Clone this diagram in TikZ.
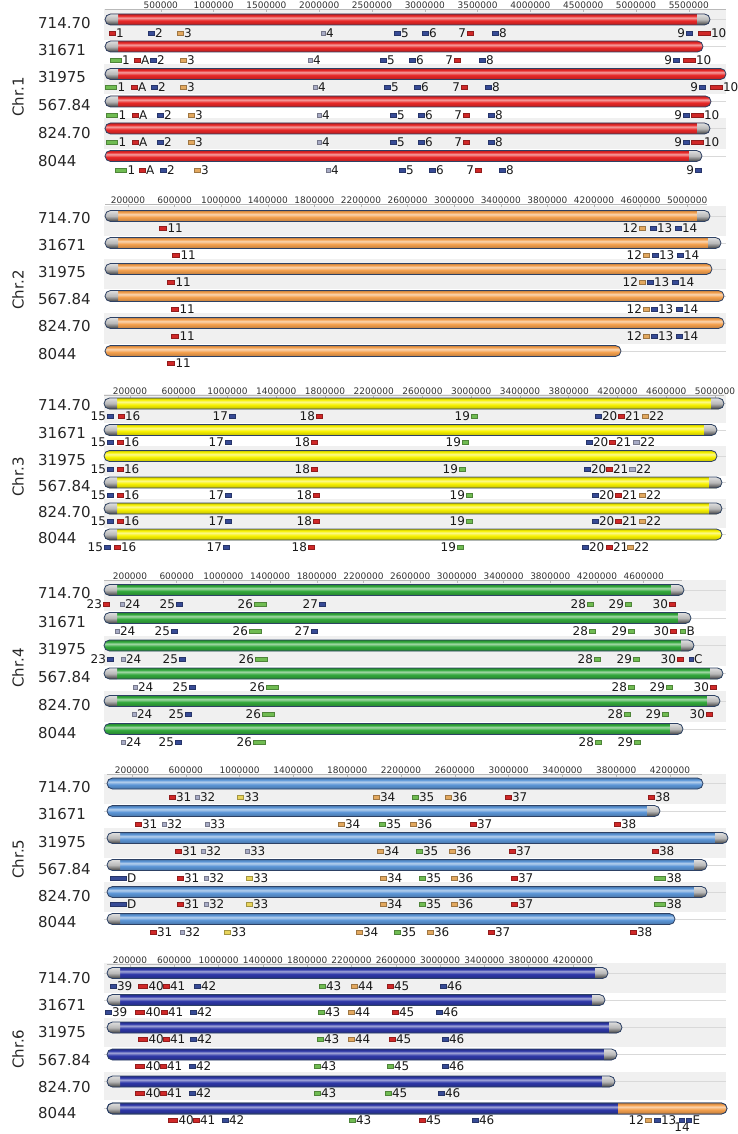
\documentclass[tikz,border=0pt]{standalone}
\usepackage{fontspec}
\setmainfont{DejaVu Sans}
\usepackage{tikz}

\definecolor{chrA}{RGB}{232,40,40}
\definecolor{chrB}{RGB}{244,160,78}
\definecolor{chrC}{RGB}{248,242,0}
\definecolor{chrD}{RGB}{50,168,60}
\definecolor{chrE}{RGB}{92,150,215}
\definecolor{chrF}{RGB}{46,56,168}
\definecolor{outl}{RGB}{45,65,100}
\definecolor{mkr}{RGB}{208,40,40}
\definecolor{mkb}{RGB}{55,75,150}
\definecolor{mko}{RGB}{226,168,95}
\definecolor{mkg}{RGB}{112,188,82}
\definecolor{mkv}{RGB}{168,172,198}
\definecolor{mky}{RGB}{232,212,92}
\colorlet{barc}{chrA}
\pgfdeclareverticalshading[barc]{tube}{100bp}{color(0bp)=(barc!78!black); color(25bp)=(barc!78!black);
  color(45bp)=(barc); color(58bp)=(barc!45!white); color(67bp)=(barc); color(75bp)=(barc!80!black);
  color(100bp)=(barc!80!black)}

\begin{document}
\begin{tikzpicture}[x=1pt, y=-1pt,
  strain/.style={anchor=west, font=\fontsize{15}{15}\selectfont, inner sep=0pt, text=black!85},
  chrlab/.style={rotate=90, font=\fontsize{15}{15}\selectfont, inner sep=0pt, text=black!85},
  axlab/.style={font=\fontsize{9}{9}\selectfont, inner sep=0pt, text=black!80},
  axline/.style={draw=gray!55, line width=0.6pt},
  band/.style={fill=gray!12},
  grid/.style={draw=gray!30, line width=0.4pt},
  bar/.style={/utils/exec={\colorlet{barc}{#1}}, shading=tube},
  endcap/.style={top color=gray!25, bottom color=black!75, middle color=gray!55},
  barline/.style={draw=outl, line width=0.8pt, rounded corners=5.5pt},
  mk/.style={draw=#1!70!black, fill=#1, line width=0.3pt, minimum height=4pt, inner sep=0pt},
  lab/.style={font=\fontsize{12}{12}\selectfont, inner sep=0.7pt, text=black!90}
]
  \useasboundingbox (0,0) rectangle (738,1134);

  % Row bands
  \foreach \ya/\yb in {9.5/40, 64/94.5, 118.5/149.5,
                       206/235.5, 259/289, 313/343.5,
                       393.5/423, 446/476, 498.5/528,
                       580/610.5, 635.5/666, 691/721.5,
                       773.5/804, 828/858, 882/911.5,
                       963/993, 1017.5/1046.5, 1071.5/1100}
    \fill[band] (104,\ya) rectangle (726,\yb);

  % Position axes
  \draw[axline] (105,9.5) -- (726,9.5);
  \foreach \k in {1,...,11} {
    \node[axlab] (ax1-\k) at ({108+52.8*\k},5) {\number\numexpr500000*\k\relax};
    \draw[axline] ({108+52.8*\k},9.5) -- ++(0,2.5);
  }
  \draw[axline] (105,204.5) -- (707,204.5);
  \foreach \k in {0,...,12} {
    \node[axlab] (ax2-\k) at ({128+46.6*\k},200) {\number\numexpr200000+400000*\k\relax};
    \draw[axline] ({128+46.6*\k},204.5) -- ++(0,2.5);
  }
  \draw[axline] (104,395.5) -- (724,395.5);
  \foreach \k in {0,...,12} {
    \node[axlab] (ax3-\k) at ({130+48.75*\k},391) {\number\numexpr200000+400000*\k\relax};
    \draw[axline] ({130+48.75*\k},395.5) -- ++(0,2.5);
  }
  \draw[axline] (104,580.5) -- (682,580.5);
  \foreach \k in {0,...,11} {
    \node[axlab] (ax4-\k) at ({130+46.7*\k},576) {\number\numexpr200000+400000*\k\relax};
    \draw[axline] ({130+46.7*\k},580.5) -- ++(0,2.5);
  }
  \draw[axline] (107,774.5) -- (702,774.5);
  \foreach \k in {0,...,10} {
    \node[axlab] (ax5-\k) at ({132+53.8*\k},770) {\number\numexpr200000+400000*\k\relax};
    \draw[axline] ({132+53.8*\k},774.5) -- ++(0,2.5);
  }
  \draw[axline] (107,964.5) -- (597,964.5);
  \foreach \k in {0,...,10} {
    \node[axlab] (ax6-\k) at ({130+44.3*\k},960) {\number\numexpr200000+400000*\k\relax};
    \draw[axline] ({130+44.3*\k},964.5) -- ++(0,2.5);
  }

  % Chromosome bars (colour / left / y / right / left cap / right cap)
  \foreach \c/\xa/\y/\xb/\cl/\cr in {
      chrA/105/19.5/710/1/1, chrA/105/46.5/703/1/0, chrA/105/74/726/1/0,
      chrA/105/101.5/711/1/0, chrA/105/128.5/710/0/1, chrA/105/156/702/0/1,
      chrB/105/216/710/1/1, chrB/105/243/721/1/1, chrB/105/269/712/1/0,
      chrB/105/296/724/1/0, chrB/105/323/724/1/0, chrB/105/351/621/0/0,
      chrC/104/403.5/724/1/1, chrC/104/430/717/1/1, chrC/104/456/717/0/0,
      chrC/104/482.5/722/1/1, chrC/104/508.5/722/1/1, chrC/104/534.5/722/1/0,
      chrD/104/590/684/1/1, chrD/104/618/691/1/1, chrD/104/645.5/694/0/1,
      chrD/104/673.5/723/1/1, chrD/104/701/720/1/1, chrD/104/729/683/0/1,
      chrE/107/783.5/703/0/0, chrE/107/811/660/0/1, chrE/107/838/728/1/1,
      chrE/107/865/707/1/1, chrE/107/892/707/0/1, chrE/107/919/675/1/0,
      chrF/107/973/608/1/1, chrF/107/1000/605/1/1, chrF/107/1027.5/622/1/1,
      chrF/107/1054.5/617/0/1, chrF/107/1081.5/615/1/1, chrF/107/1108.5/727/1/0} {
    \draw[grid] (104,\y) -- (726,\y);
    \shade[bar=\c, rounded corners=5.5pt] (\xa,\y-5.5) rectangle (\xb,\y+5.5);
    \begin{scope}
      \clip[rounded corners=5.5pt] (\xa,\y-5.5) rectangle (\xb,\y+5.5);
      \ifnum\cl=1 \shade[endcap] (\xa,\y-5.5) rectangle (\xa+13,\y+5.5); \fi
      \ifnum\cr=1 \shade[endcap] (\xb-13,\y-5.5) rectangle (\xb,\y+5.5); \fi
    \end{scope}
    \draw[barline] (\xa,\y-5.5) rectangle (\xb,\y+5.5);
  }
  % Chr.6 / 8044: tail from Chr.2
  \begin{scope}
    \clip[rounded corners=5.5pt] (107,1103) rectangle (727,1114);
    \shade[bar=chrB] (618,1103) rectangle (727,1114);
  \end{scope}
  \draw[barline] (107,1103) rectangle (727,1114);

  % Chromosome and strain labels
  \foreach \y/\t [count=\i] in {97/Chr.1, 290/Chr.2, 477/Chr.3, 668/Chr.4, 859/Chr.5, 1049/Chr.6}
    \node[chrlab] (chr\i) at (18,\y) {\t};
  \foreach \y/\t [count=\i] in {
      23/714.70, 50/31671, 77.5/31975, 105/567.84, 133/824.70, 161.5/8044,
      218.5/714.70, 245/31671, 272/31975, 299.5/567.84, 326.5/824.70, 354/8044,
      405.5/714.70, 433/31671, 460.5/31975, 486/567.84, 512.5/824.70, 538.5/8044,
      593/714.70, 622/31671, 649/31975, 677.5/567.84, 705.5/824.70, 733.5/8044,
      787/714.70, 814.5/31671, 842/31975, 869/567.84, 896/824.70, 922.5/8044,
      978.5/714.70, 1005/31671, 1032.5/31975, 1060/567.84, 1087/824.70, 1113.5/8044}
    \node[strain] (st\i) at (38,\y) {\t};

  % Markers (x / colour / width / label / label side)
  \foreach \y/\row [count=\r] in {
    33/{112/r/6/1/0, 151/b/6/2/0, 180/o/6/3/0, 323/v/4/4/0, 397/b/6/5/0, 425/b/6/6/0, 470/r/6/7/180, 495/b/6/8/0, 689/b/6/9/180, 704/r/12/10/0},
    60/{115.5/g/11/1/0, 137/r/6/A/0, 153/b/6/2/0, 183/o/6/3/0, 310/v/4/4/0, 383/b/6/5/0, 412/b/6/6/0, 457/r/6/7/180, 482/b/6/8/0, 676/b/6/9/180, 689/r/12/10/0},
    87.5/{111/g/11/1/0, 134/r/6/A/0, 154/b/6/2/0, 183/o/6/3/0, 315/v/4/4/0, 387/b/6/5/0, 417/b/6/6/0, 464/r/6/7/180, 488/b/6/8/0, 702/b/6/9/180, 716/r/12/10/0},
    115/{112/g/11/1/0, 135/r/6/A/0, 160/b/6/2/0, 191/o/6/3/0, 319/v/4/4/0, 393/b/6/5/0, 421/b/6/6/0, 466/r/6/7/180, 491/b/6/8/0, 686/b/6/9/180, 697/r/12/10/0},
    142.5/{112/g/11/1/0, 135/r/6/A/0, 160/b/6/2/0, 191/o/6/3/0, 319/v/4/4/0, 393/b/6/5/0, 421/b/6/6/0, 466/r/6/7/180, 491/b/6/8/0, 686/b/6/9/180, 697/r/12/10/0},
    170/{121/g/11/1/0, 142/r/6/A/0, 163/b/6/2/0, 197/o/6/3/0, 328/v/4/4/0, 402/b/6/5/0, 432/b/6/6/0, 478/r/6/7/180, 502/b/6/8/0, 698/b/6/9/180},
    228.5/{163/r/7/11/0, 642/o/6/12/180, 653/b/6/13/0, 678/b/6/14/0},
    255/{176/r/7/11/0, 646/o/6/12/180, 655/b/6/13/0, 680/b/6/14/0},
    282/{171/r/7/11/0, 642/o/6/12/180, 650/b/6/13/0, 675/b/6/14/0},
    309/{175/r/7/11/0, 646/o/6/12/180, 654/b/6/13/0, 679/b/6/14/0},
    336.5/{175/r/7/11/0, 646/o/6/12/180, 654/b/6/13/0, 679/b/6/14/0},
    363.5/{171/r/7/11/0},
    416/{110/b/6/15/180, 121/r/6/16/0, 232/b/6/17/180, 319/r/6/18/180, 474/g/6/19/180, 598/b/6/20/0, 621/r/6/21/0, 645/o/6/22/0},
    442.5/{110/b/6/15/180, 120/r/6/16/0, 228/b/6/17/180, 314/r/6/18/180, 465/g/6/19/180, 589/b/6/20/0, 612/r/6/21/0, 636/v/6/22/0},
    469/{110/b/6/15/180, 120/r/6/16/0, 314/r/6/18/180, 462/g/6/19/180, 587/b/6/20/0, 609/r/6/21/0, 632/v/6/22/0},
    495/{110/b/6/15/180, 120/r/6/16/0, 228/b/6/17/180, 316/r/6/18/180, 469/g/6/19/180, 595/b/6/20/0, 618/r/6/21/0, 642/o/6/22/0},
    521/{110/b/6/15/180, 120/r/6/16/0, 228/b/6/17/180, 316/r/6/18/180, 469/g/6/19/180, 595/b/6/20/0, 618/r/6/21/0, 642/o/6/22/0},
    547/{107/b/6/15/180, 117/r/6/16/0, 226/b/6/17/180, 311/r/6/18/180, 460/g/6/19/180, 585/b/6/20/0, 609/r/6/21/0, 630/o/6/22/0},
    604/{106/r/6/23/180, 122/v/4/24/0, 179/b/6/25/180, 260/g/12/26/180, 322/b/6/27/180, 590/g/6/28/180, 628/g/6/29/180, 672/r/6/30/180},
    631/{117/v/4/24/0, 174/b/6/25/180, 255/g/12/26/180, 314/b/6/27/180, 592/g/6/28/180, 631/g/6/29/180, 673/r/6/30/180, 683/g/5/B/0},
    659/{110/b/6/23/180, 123/v/4/24/0, 182/b/6/25/180, 261/g/12/26/180, 597/g/6/28/180, 636/g/6/29/180, 680/r/6/30/180, 691/b/4/C/0},
    687/{135/v/4/24/0, 192/b/6/25/180, 272/g/12/26/180, 631/g/6/28/180, 669/g/6/29/180, 713/r/6/30/180},
    714.5/{134/v/4/24/0, 188/b/6/25/180, 268/g/12/26/180, 627/g/6/28/180, 665/g/6/29/180, 709/r/6/30/180},
    742/{123/v/4/24/0, 178/b/6/25/180, 259/g/12/26/180, 598/g/6/28/180, 637/g/6/29/180},
    797/{172/r/6/31/0, 197/v/4/32/0, 240/y/6/33/0, 376/o/6/34/0, 415/g/6/35/0, 448/o/6/36/0, 508/r/6/37/0, 651/r/6/38/0},
    824/{138/r/6/31/0, 164/v/4/32/0, 207/v/4/33/0, 341/o/6/34/0, 382/g/6/35/0, 413/o/6/36/0, 473/r/6/37/0, 617/r/6/38/0},
    851/{178/r/6/31/0, 203/v/4/32/0, 247/v/4/33/0, 380/o/6/34/0, 419/g/6/35/0, 452/o/6/36/0, 512/r/6/37/0, 655/r/6/38/0},
    878/{118/b/16/D/0, 180/r/6/31/0, 206/v/4/32/0, 249/y/6/33/0, 383/o/6/34/0, 422/g/6/35/0, 454/o/6/36/0, 514/r/6/37/0, 660/g/11/38/0},
    904.5/{118/b/16/D/0, 180/r/6/31/0, 206/v/4/32/0, 249/y/6/33/0, 383/o/6/34/0, 422/g/6/35/0, 454/o/6/36/0, 514/r/6/37/0, 660/g/11/38/0},
    932/{153/r/6/31/0, 182/v/4/32/0, 227/y/6/33/0, 359/o/6/34/0, 397/g/6/35/0, 430/o/6/36/0, 491/r/6/37/0, 633/r/6/38/0},
    986/{113/b/6/39/0, 143/r/9/40/0, 166/r/6/41/0, 197/b/6/42/0, 322/g/6/43/0, 354/o/6/44/0, 390/r/6/45/0, 443/b/6/46/0},
    1012.5/{108/b/6/39/0, 140/r/9/40/0, 164/r/6/41/0, 193/b/6/42/0, 321/g/6/43/0, 351/o/6/44/0, 395/r/6/45/0, 439/b/6/46/0},
    1039.5/{143/r/9/40/0, 166/r/6/41/0, 193/b/6/42/0, 320/g/6/43/0, 351/o/6/44/0, 392/r/6/45/0, 445/b/6/46/0},
    1066/{140/r/9/40/0, 163/r/6/41/0, 192/b/6/42/0, 317/g/6/43/0, 390/g/6/45/0, 445/b/6/46/0},
    1093/{140/r/9/40/0, 163/r/6/41/0, 192/b/6/42/0, 317/g/6/43/0, 388/g/6/45/0, 441/b/6/46/0},
    1120/{173/r/9/40/0, 196/r/6/41/0, 225/b/6/42/0, 352/g/6/43/0, 422/r/6/45/0, 475/b/6/46/0, 648/o/6/12/180, 657/b/6/13/0, 682/b/5/14/270, 689/b/5/E/0}}
    \foreach \x/\c/\w/\t/\s [count=\n] in \row
      \node[mk=mk\c, minimum width=\w, label={[lab]\s:\t}] (m\r-\n) at (\x,\y) {};
\end{tikzpicture}
\end{document}
